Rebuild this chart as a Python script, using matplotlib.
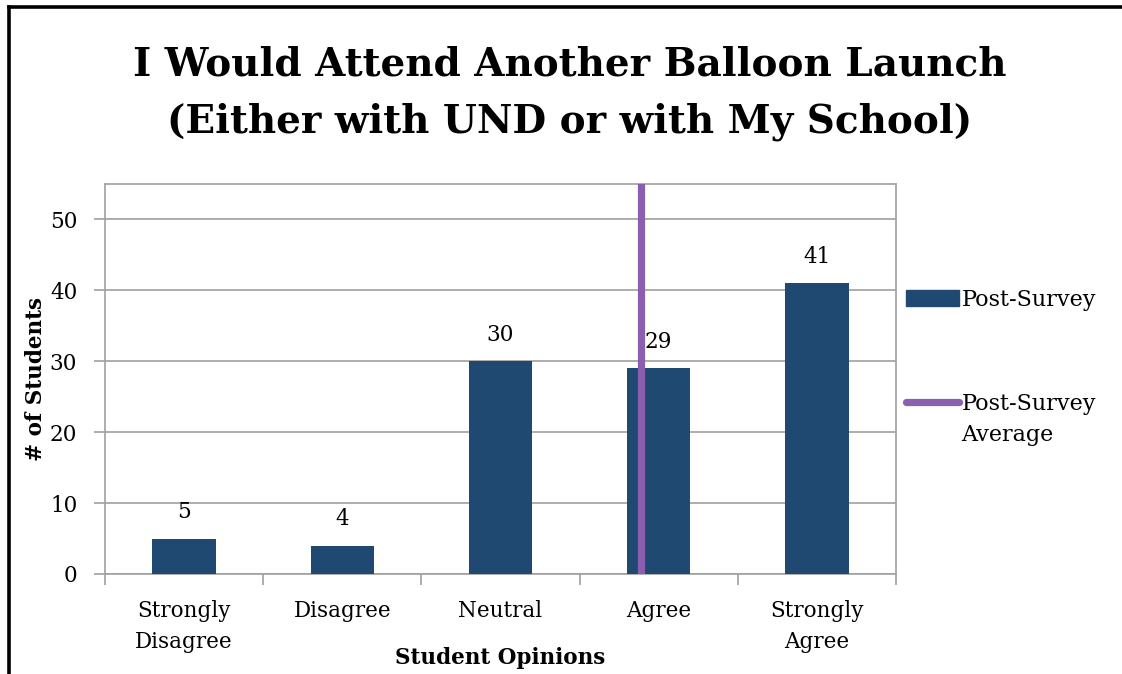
import matplotlib
matplotlib.use("Agg")
import numpy as np
import matplotlib.pyplot as plt
from matplotlib.lines import Line2D
from matplotlib.patches import Patch

categories = ["Strongly\nDisagree", "Disagree", "Neutral", "Agree", "Strongly\nAgree"]
counts = [5, 4, 30, 29, 41]
scores = [1, 2, 3, 4, 5]

bar_color = "#1F4971"
avg_color = "#8A5FB0"
grid_color = "#A0A0A0"

plt.rcParams['font.family'] = ['DejaVu Serif']

W, H = 1122, 674
fig = plt.figure(figsize=(W / 100, H / 100), dpi=100)
ax = fig.add_axes([105 / W, 1 - 574 / H, (896 - 105) / W, (574 - 184) / H])

x = np.arange(len(categories))
bars = ax.bar(x, counts, width=0.4, color=bar_color, zorder=3)
for xi, c in zip(x, counts):
    ax.text(xi, c + 2.2, str(c), ha="center", va="bottom", fontsize=15.5)

# weighted average of the survey answers, drawn in category position
avg = np.sum(np.array(scores) * np.array(counts)) / np.sum(counts)
ax.axvline(avg - 1, color=avg_color, lw=5.2, zorder=4)

ax.set_xlim(-0.5, len(categories) - 0.5)
ax.set_ylim(0, 55)
ax.set_yticks(np.arange(0, 51, 10))
ax.yaxis.grid(True, color=grid_color, lw=1.2, zorder=0)
ax.set_axisbelow(True)
for s in ax.spines.values():
    s.set_color(grid_color)
    s.set_linewidth(1.2)

ax.set_xticks(x)
ax.set_xticklabels(categories, fontsize=15.5, linespacing=1.5)
ax.set_xticks(np.arange(-0.5, len(categories), 1), minor=True)
ax.tick_params(axis="x", which="major", length=0, pad=19)
ax.tick_params(axis="x", which="minor", length=8, color=grid_color, width=1.2)
ax.tick_params(axis="y", length=8, color=grid_color, width=1.2, labelsize=15.5, pad=12)

ax.set_xlabel("Student Opinions", fontsize=15.5, fontweight="bold", labelpad=-4)
ax.set_ylabel("# of Students", fontsize=15.5, fontweight="bold", labelpad=2)

fig.suptitle("I Would Attend Another Balloon Launch\n(Either with UND or with My School)",
             x=570 / W, y=1 - 46 / H, va="top", fontsize=28, fontweight="bold",
             linespacing=1.62)

leg1 = fig.legend([Patch(color=bar_color)], ["Post-Survey"], loc="center left",
                  bbox_to_anchor=(906 / W, 1 - 300 / H), frameon=False, fontsize=16,
                  handlelength=2.4, handletextpad=0.1, borderpad=0, borderaxespad=0)
leg2 = fig.legend([Line2D([0], [0], color=avg_color, lw=5.2, solid_capstyle="round"),
                   Line2D([0], [0], color="none")],
                  ["Post-Survey", "Average"], loc="upper left",
                  bbox_to_anchor=(906 / W, 1 - 393 / H), frameon=False, fontsize=16,
                  handlelength=2.4, handletextpad=0.1, borderpad=0, borderaxespad=0,
                  labelspacing=0.4)

# outer frame (left and top edges visible)
fig.add_artist(Line2D([9 / W, 9 / W], [0, 1 - 7 / H], color="black", lw=2.6, transform=fig.transFigure))
fig.add_artist(Line2D([9 / W, 1], [1 - 7 / H, 1 - 7 / H], color="black", lw=2.6, transform=fig.transFigure))

fig.savefig("out.png", dpi=100)
